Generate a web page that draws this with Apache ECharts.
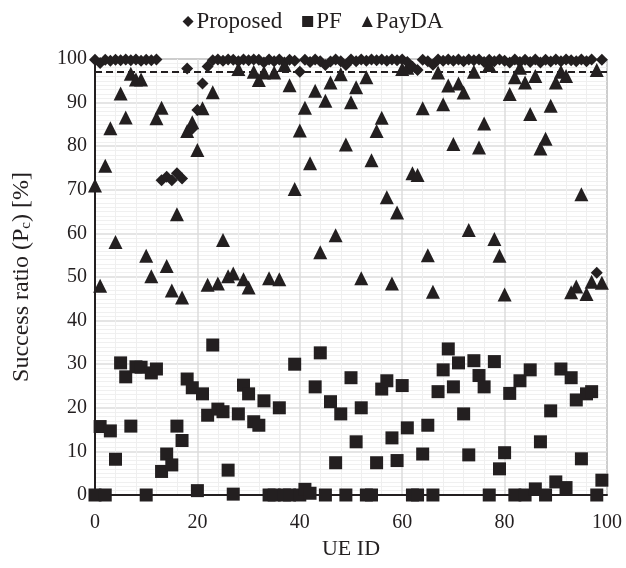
<!DOCTYPE html>
<html>
<head>
<meta charset="utf-8">
<script src="https://cdn.jsdelivr.net/npm/echarts@6/dist/echarts.min.js"></script>
<style>
  html, body { margin: 0; padding: 0; background: #fff; }
  #chart { width: 626px; height: 568px; }
</style>
</head>
<body>
<div id="chart"></div>
<script>
// success ratio per UE (index = UE ID)
const proposed = [
  99.8, 99.1, 99.8, 99.6, 99.8, 99.7, 99.9, 99.7, 99.9, 99.6,
  99.8, 99.7, 99.9, 72.2, 73.0, 72.2, 73.8, 72.6, 97.8, 84.0,
  88.3, 94.4, 98.3, 99.7, 99.9, 99.6, 99.9, 99.8, 99.5, 99.9,
  99.7, 99.9, 99.8, 99.2, 99.9, 99.5, 99.9, 99.2, 99.8, 99.6,
  97.1, 99.8, 99.3, 99.9, 99.5, 98.6, 99.4, 99.9, 99.5, 98.6,
  99.9, 99.5, 99.9, 99.6, 99.9, 99.7, 99.9, 99.6, 99.9, 99.7,
  99.9, 99.3, 98.2, 97.5, 99.8, 99.5, 98.7, 99.9, 99.6, 99.9,
  99.6, 99.9, 99.5, 99.9, 99.7, 99.9, 99.3, 99.8, 99.5, 99.9,
  99.6, 99.2, 99.9, 99.3, 99.8, 99.3, 99.9, 99.2, 99.8, 99.4,
  99.9, 99.5, 99.9, 99.7, 99.5, 99.9, 99.5, 99.9, 51.0, 99.8
];
const pf = [
  0, 15.7, 0, 14.7, 8.2, 30.3, 27.1, 15.8, 29.4, 29.3,
  0, 28.0, 28.9, 5.4, 9.4, 6.9, 15.8, 12.5, 26.6, 24.6,
  1.0, 23.2, 18.3, 34.4, 19.7, 19.1, 5.7, 0.2, 18.6, 25.2,
  23.2, 16.8, 16.0, 21.6, 0, 0, 20.0, 0, 0, 30.0,
  0, 1.3, 0.4, 24.8, 32.6, 0, 21.4, 7.4, 18.6, 0,
  26.9, 12.2, 20.0, 0, 0, 7.4, 24.3, 26.2, 13.1, 7.9,
  25.1, 15.4, 0, 0, 9.4, 16.0, 0, 23.7, 28.7, 33.5,
  24.8, 30.3, 18.6, 9.2, 30.8, 27.4, 24.8, 0, 30.6, 6.0,
  9.7, 23.3, 0, 26.2, 0, 28.7, 1.4, 12.2, 0, 19.3,
  3.0, 28.9, 1.7, 26.9, 21.8, 8.3, 23.2, 23.7, 0, 3.4
];
const payda = [
  71.0, 48.0, 75.5, 84.1, 58.0, 92.1, 86.6, 96.6, 95.3, 95.3,
  54.9, 50.2, 86.4, 88.8, 52.5, 46.9, 64.4, 45.3, 83.5, 85.5,
  79.1, 88.7, 48.2, 92.4, 48.5, 58.5, 50.2, 50.8, 97.7, 49.5,
  47.6, 97.1, 95.2, 96.9, 49.7, 96.9, 49.5, 98.6, 94.0, 70.2,
  83.6, 88.8, 76.1, 92.7, 55.7, 90.4, 94.6, 59.6, 96.5, 80.4,
  90.1, 93.5, 49.7, 95.8, 76.8, 83.5, 86.5, 68.3, 48.5, 64.8,
  97.7, 98.0, 73.8, 73.4, 88.7, 55.0, 46.6, 96.9, 89.6, 93.9,
  80.5, 94.4, 92.3, 60.8, 97.1, 79.7, 85.2, 98.6, 58.7, 54.9,
  46.0, 92.0, 95.8, 98.0, 94.6, 87.4, 96.1, 79.5, 81.7, 89.3,
  94.6, 97.1, 96.1, 46.5, 47.8, 69.0, 46.1, 48.9, 97.5, 48.7
];
const threshold = 97;

const ink = '#231f20';
const font = '"Liberation Serif", "Times New Roman", serif';
const toPoints = arr => arr.map((v, id) => [id, v]);

const chart = echarts.init(document.getElementById('chart'));
const option = {
  animation: false,
  textStyle: { fontFamily: font, color: ink },
  legend: {
    top: 5,
    left: 'center',
    itemWidth: 11,
    itemHeight: 11,
    itemGap: 20,
    textStyle: { fontFamily: font, fontSize: 23, color: ink, padding: [0, 0, 0, -2] },
    data: ['Proposed', 'PF', 'PayDA']
  },
  grid: {
    left: 95, right: 19, top: 59, bottom: 73,
    outerBoundsMode: 'none',
    show: true, borderColor: '#444', borderWidth: 1
  },
  xAxis: {
    type: 'value',
    min: 0, max: 100, interval: 20,
    name: 'UE ID',
    nameLocation: 'middle',
    nameGap: 42,
    nameTextStyle: { fontFamily: font, fontSize: 22, color: ink },
    axisLine: { lineStyle: { color: ink, width: 2 } },
    axisTick: { show: false },
    axisLabel: { fontFamily: font, fontSize: 20, color: ink, margin: 18 },
    splitLine: { lineStyle: { color: '#dcdcdc', width: 1.5 } },
    minorTick: { show: false, splitNumber: 5 },
    minorSplitLine: { show: true, lineStyle: { color: '#efefef', width: 1 } }
  },
  yAxis: {
    type: 'value',
    min: 0, max: 100, interval: 10,
    name: '{a|Success ratio (P}{s|c}{a|) [%]}',
    nameLocation: 'middle',
    nameGap: 61,
    nameTextStyle: {
      rich: {
        a: { fontFamily: font, fontSize: 24, color: ink },
        s: { fontFamily: font, fontSize: 15, color: ink, verticalAlign: 'bottom', padding: [10, 0, 0, 0] }
      }
    },
    axisLine: { show: true, lineStyle: { color: ink, width: 2 } },
    axisTick: { show: false },
    axisLabel: { fontFamily: font, fontSize: 20, color: ink, margin: 8 },
    splitLine: { lineStyle: { color: '#dcdcdc', width: 1.5 } },
    minorTick: { show: false, splitNumber: 10 },
    minorSplitLine: { show: true, lineStyle: { color: '#f0f0f0', width: 1 } }
  },
  series: [
    {
      name: 'Proposed',
      type: 'scatter',
      symbol: 'diamond',
      symbolSize: 12,
      itemStyle: { color: ink, opacity: 1 },
      data: toPoints(proposed),
      z: 4
    },
    {
      name: 'PF',
      type: 'scatter',
      symbol: 'rect',
      symbolSize: 13,
      itemStyle: { color: ink, opacity: 1 },
      data: toPoints(pf),
      z: 3
    },
    {
      name: 'PayDA',
      type: 'scatter',
      symbol: 'triangle',
      symbolSize: 14,
      itemStyle: { color: ink, opacity: 1 },
      data: toPoints(payda),
      z: 3,
      markLine: {
        silent: true,
        symbol: 'none',
        label: { show: false },
        lineStyle: { color: ink, type: [7, 4], width: 2, opacity: 1 },
        data: [{ yAxis: threshold }]
      }
    }
  ]
};
chart.setOption(option);
</script>
</body>
</html>
